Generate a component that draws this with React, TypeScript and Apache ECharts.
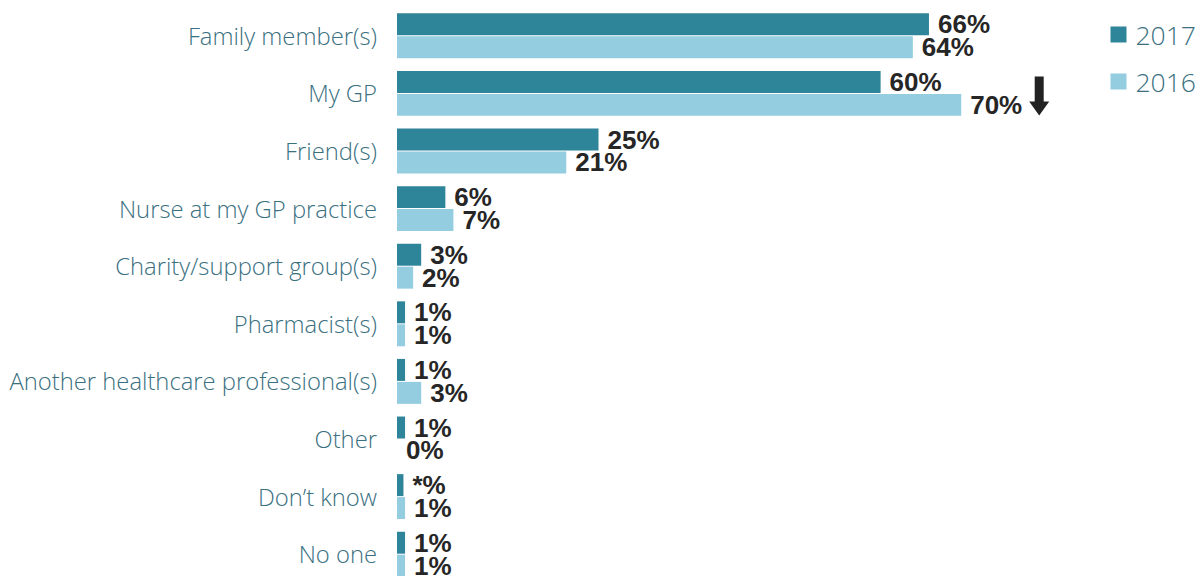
import React, { useEffect, useRef } from "react";
import * as echarts from "echarts";

const categories = [
  "Family member(s)",
  "My GP",
  "Friend(s)",
  "Nurse at my GP practice",
  "Charity/support group(s)",
  "Pharmacist(s)",
  "Another healthcare professional(s)",
  "Other",
  "Don’t know",
  "No one",
];
const values2017 = [66, 60, 25, 6, 3, 1, 1, 1, 0.8, 1];
const values2016 = [64, 70, 21, 7, 2, 1, 3, 0, 1, 1];
const labels2017 = ["66%", "60%", "25%", "6%", "3%", "1%", "1%", "1%", "*%", "1%"];
const labels2016 = ["64%", "70%", "21%", "7%", "2%", "1%", "3%", "0%", "1%", "1%"];
const arrowCategory = "My GP";
const arrowValue = 70;

const DARK = "#2e8499";
const LIGHT = "#93cddf";
const TEXT_TEAL = "#3a7080";

export default function App() {
  const ref = useRef<HTMLDivElement>(null);
  useEffect(() => {
    document.body.style.margin = "0";
    if (!ref.current) return;
    const chart = echarts.init(ref.current, null, { renderer: "svg" });
    const labelStyle = {
      show: true,
      position: "right" as const,
      distance: 9,
      fontFamily: "Liberation Sans, Arial, sans-serif",
      fontWeight: "bold" as const,
      fontSize: 26,
      color: "#262626",
    };
    chart.setOption({
      animation: false,
      legend: {
        orient: "vertical",
        right: 3,
        top: 16,
        icon: "rect",
        itemWidth: 16,
        itemHeight: 16,
        itemGap: 20,
        textStyle: { fontFamily: "Open Sans, sans-serif", fontWeight: 300, fontSize: 26.5, color: TEXT_TEAL, padding: [0, 0, 0, 4] },
        data: ["2017", "2016"],
      },
      grid: { left: 397, top: 7, width: 806, height: 576, outerBoundsMode: "none" },
      xAxis: { type: "value", min: 0, max: 100, show: false },
      yAxis: {
        type: "category",
        inverse: true,
        data: categories,
        axisLine: { show: false },
        axisTick: { show: false },
        axisLabel: {
          margin: 20,
          fontFamily: "Open Sans, sans-serif",
          fontWeight: 300,
          fontSize: 23.8,
          color: TEXT_TEAL,
        },
      },
      series: [
        {
          name: "2017",
          type: "bar",
          data: values2017,
          itemStyle: { color: DARK },
          barCategoryGap: "22%",
          barGap: "4.5%",
          label: { ...labelStyle, formatter: (p: any) => labels2017[p.dataIndex] },
        },
        {
          name: "2016",
          type: "bar",
          data: values2016,
          itemStyle: { color: LIGHT },
          barCategoryGap: "22%",
          barGap: "4.5%",
          label: { ...labelStyle, formatter: (p: any) => labels2016[p.dataIndex] },
        },
      ],
    });
    const pt = chart.convertToPixel({ gridIndex: 0 }, [arrowValue, arrowCategory]) as number[];
    if (pt) {
      const cx = pt[0] + 78;
      const top = pt[1] - 17;
      const bottom = pt[1] + 22;
      const neck = bottom - 14;
      chart.setOption({
        graphic: [
          {
            type: "polygon",
            shape: {
              points: [
                [cx - 4.5, top],
                [cx + 4.5, top],
                [cx + 4.5, neck],
                [cx + 10, neck],
                [cx, bottom],
                [cx - 10, neck],
                [cx - 4.5, neck],
              ],
            },
            style: { fill: "#222222" },
          },
        ],
      });
    }
    return () => chart.dispose();
  }, []);
  return <div ref={ref} style={{ width: 1204, height: 576 }} />;
}
